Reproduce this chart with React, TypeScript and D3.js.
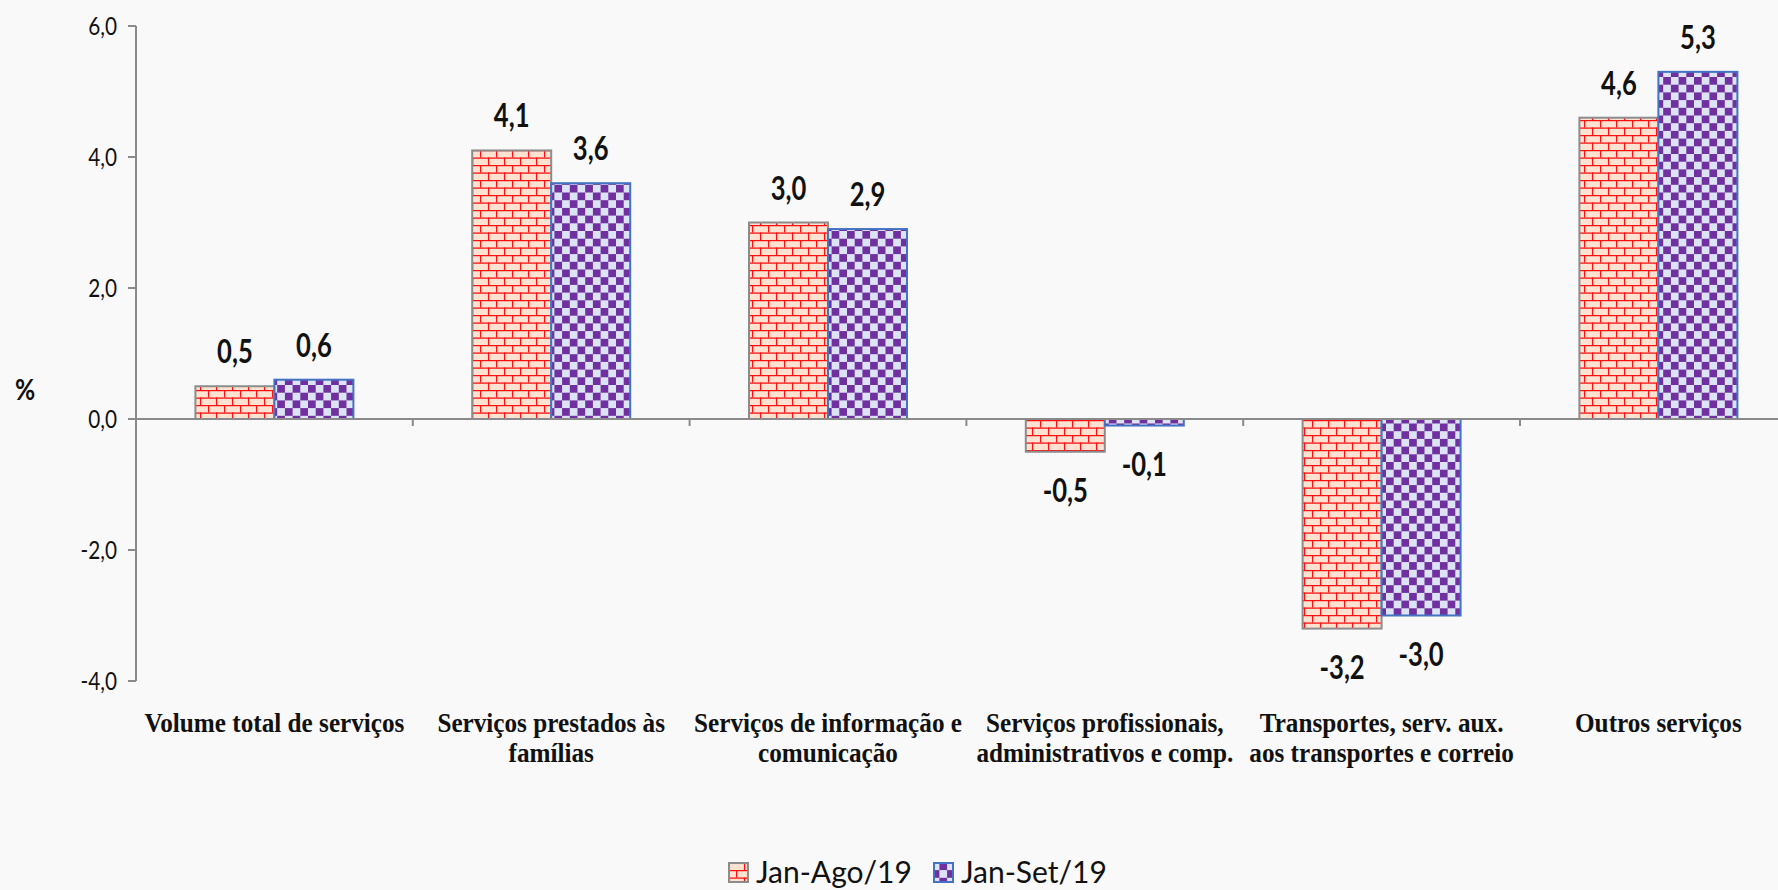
import React from "react";
import * as d3 from "d3";

const categories: string[][] = [
  ["Volume total de serviços"],
  ["Serviços prestados às", "famílias"],
  ["Serviços de informação e", "comunicação"],
  ["Serviços profissionais,", "administrativos e comp."],
  ["Transportes, serv. aux.", "aos transportes e correio"],
  ["Outros serviços"],
];
const seriesNames = ["Jan-Ago/19", "Jan-Set/19"];
const janAgo = [0.5, 4.1, 3.0, -0.5, -3.2, 4.6];
const janSet = [0.6, 3.6, 2.9, -0.1, -3.0, 5.3];
const yTicks = [-4, -2, 0, 2, 4, 6];

const W = 1778;
const H = 890;
const fmt = (v: number) => d3.format(".1f")(v).replace(".", ",").replace("−", "-");

export default function App() {
  const x0 = 136;
  const step = 276.8;
  const x = d3
    .scaleBand<number>()
    .domain(categories.map((_, i) => i))
    .range([x0, x0 + step * categories.length])
    .padding(0);
  const xs = d3
    .scaleBand<number>()
    .domain([0, 1])
    .range([0, x.bandwidth()])
    .paddingInner(0)
    .paddingOuter(0.752);
  const y = d3.scaleLinear().domain([-4, 6]).range([681, 26]);
  const y0 = y(0);
  const series = [janAgo, janSet];
  const fills = ["url(#brick)", "url(#checker)"];
  const strokes = ["#8c8c8c", "#4472c4"];
  const axisColor = "#8a8a8a";
  const sansF = "Lato, 'Open Sans', sans-serif";
  const serifF = "'Liberation Serif', 'DejaVu Serif', serif";

  return (
    <div style={{ position: "fixed", left: 0, top: 0, width: W, height: H }}>
      <svg width={W} height={H} style={{ display: "block", background: "#f9f9f9" }}>
        <defs>
          <pattern id="brick" patternUnits="userSpaceOnUse" width={16} height={15}>
            <rect width={16} height={15} fill="#fde2d2" />
            <line x1={0} x2={16} y1={0.6} y2={0.6} stroke="#ff1010" strokeWidth={1.3} />
            <line x1={0} x2={16} y1={8.1} y2={8.1} stroke="#ff1010" strokeWidth={1.3} />
            <line x1={0.6} x2={0.6} y1={0} y2={7.5} stroke="#ff1010" strokeWidth={1.3} />
            <line x1={8.6} x2={8.6} y1={7.5} y2={15} stroke="#ff1010" strokeWidth={1.3} />
          </pattern>
          <pattern id="checker" patternUnits="userSpaceOnUse" width={15.4} height={15.4}>
            <rect width={15.4} height={15.4} fill="#dbe3f4" />
            <rect x={0} y={0} width={7.7} height={7.7} fill="#7030a0" />
            <rect x={7.7} y={7.7} width={7.7} height={7.7} fill="#7030a0" />
          </pattern>
        </defs>

        {/* bars */}
        {categories.map((_, ci) =>
          series.map((s, si) => {
            const v = s[ci];
            const bx = (x(ci) as number) + (xs(si) as number);
            const top = Math.min(y(v), y0);
            const h = Math.abs(y(v) - y0);
            return (
              <rect
                key={`b${ci}-${si}`}
                x={bx}
                y={top}
                width={xs.bandwidth()}
                height={h}
                fill={fills[si]}
                stroke={strokes[si]}
                strokeWidth={2}
              />
            );
          })
        )}

        {/* y axis */}
        <line x1={x0} x2={x0} y1={y(6)} y2={y(-4)} stroke={axisColor} strokeWidth={2} />
        {yTicks.map((t) => (
          <g key={`yt${t}`}>
            <line x1={x0 - 8} x2={x0} y1={y(t)} y2={y(t)} stroke={axisColor} strokeWidth={2} />
            <text
              transform={`translate(${x0 - 19},${y(t) + 9}) scale(0.83,1)`}
              textAnchor="end"
              fontFamily={sansF}
              fontSize={25}
              fill="#111"
            >
              {fmt(t)}
            </text>
          </g>
        ))}
        <text
          transform={`translate(15,400) scale(0.85,1)`}
          fontFamily={sansF}
          fontWeight="bold"
          fontSize={29}
          fill="#111"
        >
          %
        </text>

        {/* x axis */}
        <line x1={x0} x2={W} y1={y0} y2={y0} stroke={axisColor} strokeWidth={2} />
        {categories.map((_, ci) =>
          ci === 0 ? null : (
            <line
              key={`xt${ci}`}
              x1={x(ci) as number}
              x2={x(ci) as number}
              y1={y0}
              y2={y0 + 7}
              stroke={axisColor}
              strokeWidth={2}
            />
          )
        )}

        {/* value labels */}
        {categories.map((_, ci) =>
          series.map((s, si) => {
            const v = s[ci];
            const cx = (x(ci) as number) + (xs(si) as number) + xs.bandwidth() / 2;
            const by = v >= 0 ? y(v) - 23 : y(v) + 50;
            return (
              <text
                key={`l${ci}-${si}`}
                transform={`translate(${cx},${by}) scale(0.8,1)`}
                textAnchor="middle"
                fontFamily={sansF}
                fontWeight="bold"
                fontSize={32}
                fill="#111"
              >
                {fmt(v)}
              </text>
            );
          })
        )}

        {/* category labels */}
        {categories.map((lines, ci) => {
          const cx = (x(ci) as number) + x.bandwidth() / 2;
          return lines.map((ln, li) => (
            <text
              key={`c${ci}-${li}`}
              transform={`translate(${cx},${732 + li * 30}) scale(0.9,1)`}
              textAnchor="middle"
              fontFamily={serifF}
              fontWeight="bold"
              fontSize={28}
              fill="#111"
            >
              {ln}
            </text>
          ));
        })}

        {/* legend */}
        {seriesNames.map((name, i) => {
          const lx = i === 0 ? 729 : 934;
          return (
            <g key={`lg${i}`}>
              <rect x={lx} y={863} width={19} height={19} fill={fills[i]} stroke={strokes[i]} strokeWidth={2} />
              <text x={lx + 27} y={883} fontFamily={sansF} fontSize={30} fill="#111">
                {name}
              </text>
            </g>
          );
        })}
      </svg>
    </div>
  );
}
